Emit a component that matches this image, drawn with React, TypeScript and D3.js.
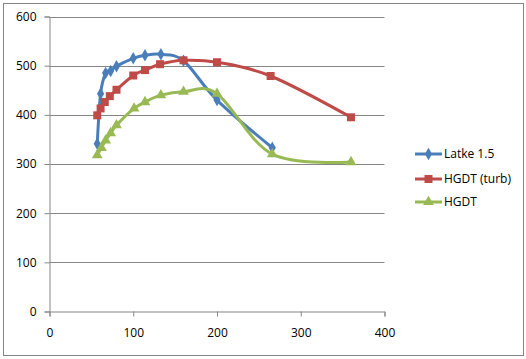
import * as d3 from "d3";
import { useEffect, useRef } from "react";

const latkeX = [57, 61, 67, 73, 80, 100, 114, 133, 160, 200, 266];
const latkeY = [341, 443, 485, 489, 499, 515, 521, 523, 510, 430, 333];
const turbX = [57, 61, 66, 72, 80, 100, 114, 132, 160, 200, 264, 360];
const turbY = [399, 413, 426, 438, 451, 480, 491, 503, 511, 507, 479, 395];
const hgdtX = [57, 62, 67, 73, 80, 101, 114, 133, 160, 200, 266, 360];
const hgdtY = [318, 333, 348, 363, 379, 413, 426, 440, 447, 443, 320, 304];
const seriesNames = ["Latke 1.5", "HGDT (turb)", "HGDT"];
const xTicks = [0, 100, 200, 300, 400];
const yTicks = [0, 100, 200, 300, 400, 500, 600];

const App = () => {
  const ref = useRef<SVGSVGElement>(null);

  useEffect(() => {
    const svg = d3.select(ref.current);
    const width = 526;
    const height = 359;
    svg.attr("width", width).attr("height", height);

    const font = "'Open Sans', 'Liberation Sans', sans-serif";
    const gray = "#868686";

    // chart border
    svg
      .append("rect")
      .attr("x", 3.5)
      .attr("y", 3.5)
      .attr("width", 520)
      .attr("height", 352)
      .attr("fill", "#fff")
      .attr("stroke", gray)
      .attr("stroke-width", 1);

    const x = d3.scaleLinear().domain([0, 400]).range([49.5, 384.5]);
    const y = d3.scaleLinear().domain([0, 600]).range([311.5, 16.5]);

    // gridlines
    svg
      .append("g")
      .selectAll("line")
      .data(yTicks.filter((t) => t > 0))
      .join("line")
      .attr("x1", x(0))
      .attr("x2", x(400))
      .attr("y1", (d) => Math.round(y(d)) + 0.5)
      .attr("y2", (d) => Math.round(y(d)) + 0.5)
      .attr("stroke", gray);

    // y axis
    const yAxis = svg
      .append("g")
      .attr("transform", `translate(${x(0)},0)`)
      .call(d3.axisLeft(y).tickValues(yTicks).tickSize(5).tickPadding(8));
    yAxis.select(".domain").attr("stroke", gray);
    yAxis.selectAll(".tick line").attr("stroke", gray);
    yAxis
      .selectAll("text")
      .attr("font-family", font)
      .attr("font-size", 12)
      .attr("fill", "#000");

    // x axis
    const xAxis = svg
      .append("g")
      .attr("transform", `translate(0,${y(0)})`)
      .call(d3.axisBottom(x).tickValues(xTicks).tickSize(5).tickPadding(12));
    xAxis.select(".domain").attr("stroke", gray);
    xAxis.selectAll(".tick line").attr("stroke", gray);
    xAxis
      .selectAll("text")
      .attr("font-family", font)
      .attr("font-size", 12)
      .attr("fill", "#000");

    const series = [
      { xs: latkeX, ys: latkeY, color: "#4A7EBB", marker: d3.symbolDiamond, size: 45 },
      { xs: turbX, ys: turbY, color: "#BE4B48", marker: d3.symbolSquare, size: 64 },
      { xs: hgdtX, ys: hgdtY, color: "#98B954", marker: d3.symbolTriangle, size: 50 },
    ];

    const line = d3
      .line<[number, number]>()
      .x((d) => x(d[0]))
      .y((d) => y(d[1]))
      .curve(d3.curveCardinal.tension(0));

    series.forEach((s) => {
      const pts: [number, number][] = s.xs.map((v, i) => [v, s.ys[i]]);
      const g = svg.append("g");
      g.append("path")
        .attr("d", line(pts))
        .attr("fill", "none")
        .attr("stroke", s.color)
        .attr("stroke-width", 3)
        .attr("stroke-linejoin", "round")
        .attr("stroke-linecap", "round");
      g.selectAll("path.m")
        .data(pts)
        .join("path")
        .attr("class", "m")
        .attr("transform", (d) => `translate(${x(d[0])},${y(d[1])})`)
        .attr("d", d3.symbol().type(s.marker).size(s.size)())
        .attr("fill", s.color);
    });

    // legend
    const legendY = [154, 179, 202];
    series.forEach((s, i) => {
      const g = svg.append("g").attr("transform", `translate(0,${legendY[i]})`);
      g.append("line")
        .attr("x1", 415)
        .attr("x2", 442)
        .attr("stroke", s.color)
        .attr("stroke-width", 3);
      g.append("path")
        .attr("transform", "translate(428.5,0)")
        .attr("d", d3.symbol().type(s.marker).size(s.size)())
        .attr("fill", s.color);
      g.append("text")
        .attr("x", 444)
        .attr("dy", "0.35em")
        .attr("font-family", font)
        .attr("font-size", 12)
        .attr("fill", "#000")
        .text(seriesNames[i]);
    });

    return () => {
      svg.selectAll("*").remove();
    };
  }, []);

  return (
    <div style={{ position: "absolute", left: 0, top: 0 }}>
      <svg ref={ref} style={{ display: "block" }}></svg>
    </div>
  );
};

export default App;
